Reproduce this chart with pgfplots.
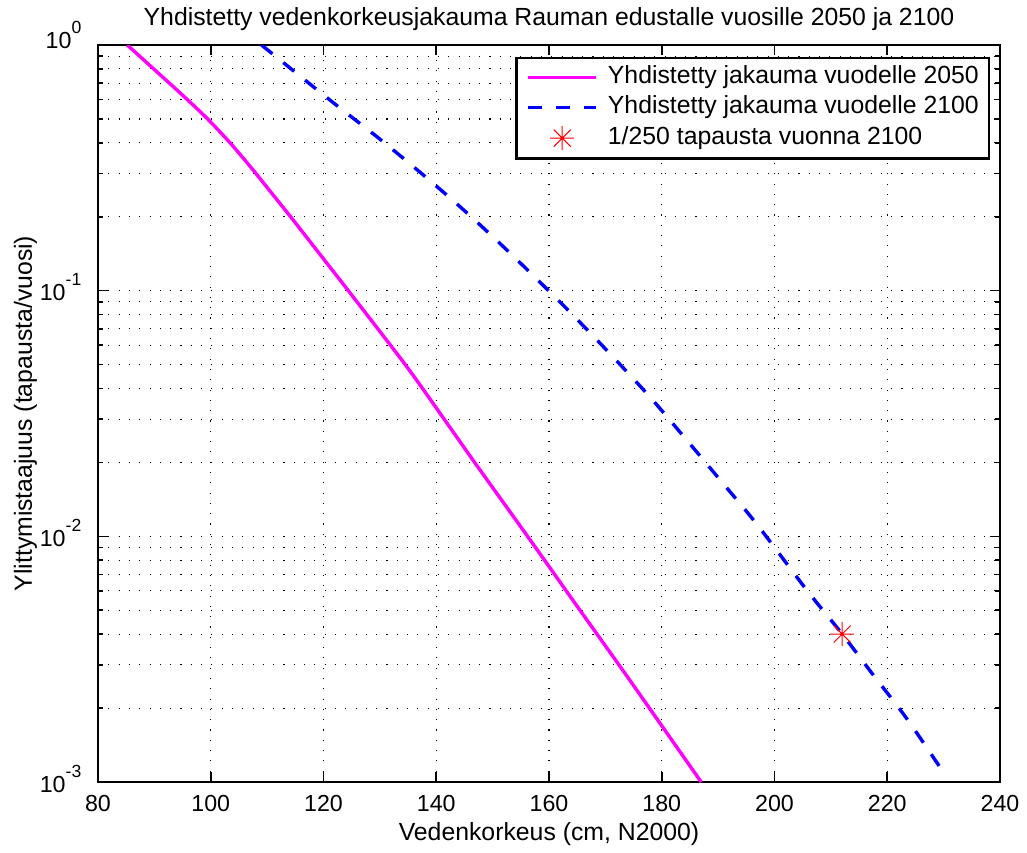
\documentclass[border=0pt]{standalone}
\usepackage{fontspec}
\setmainfont{Liberation Sans}
\usepackage{pgfplots}
\pgfplotsset{compat=1.18}
\definecolor{mmag}{RGB}{255,0,255}
\definecolor{mblue}{RGB}{0,0,255}
\definecolor{mred}{RGB}{255,0,0}
\pgfdeclareplotmark{mstar}{%
 \pgfpathmoveto{\pgfqpoint{-\pgfplotmarksize}{0pt}}\pgfpathlineto{\pgfqpoint{\pgfplotmarksize}{0pt}}%
 \pgfpathmoveto{\pgfqpoint{0pt}{-\pgfplotmarksize}}\pgfpathlineto{\pgfqpoint{0pt}{\pgfplotmarksize}}%
 \pgfpathmoveto{\pgfqpoint{-0.7071\pgfplotmarksize}{-0.7071\pgfplotmarksize}}\pgfpathlineto{\pgfqpoint{0.7071\pgfplotmarksize}{0.7071\pgfplotmarksize}}%
 \pgfpathmoveto{\pgfqpoint{-0.7071\pgfplotmarksize}{0.7071\pgfplotmarksize}}\pgfpathlineto{\pgfqpoint{0.7071\pgfplotmarksize}{-0.7071\pgfplotmarksize}}%
 \pgfusepathqstroke}
\pgfplotsset{
  lineleg/.style={legend image code/.code={\draw[##1] (0pt,0pt) -- (34pt,0pt);}},
  starleg/.style={legend image code/.code={\draw[##1, line width=0.5pt] plot coordinates {(17pt,0pt)};}},
}
\newcommand{\tpow}[1]{10\raisebox{7.4pt}{\fontsize{8.8}{9}\selectfont #1}}
\newcommand{\lfont}{\fontsize{12.4}{14}\selectfont}
\begin{document}
\begin{tikzpicture}
\path[use as bounding box] (-49pt,-35pt) rectangle (464.5pt,391pt);
\begin{axis}[
  at={(0,0)}, anchor=south west,
  scale only axis, width=451pt, height=368.5pt,
  xmin=80, xmax=240, ymode=log, ymin=1e-3, ymax=1,
  font=\fontsize{11.6}{13}\selectfont,
  xtick={80,100,...,240},
  ytick={1e-3,1e-2,1e-1,1},
  yticklabels={\tpow{-3},\tpow{-2},\tpow{-1},\raisebox{3.5pt}{\tpow{0}}},
  /pgf/number format/assume math mode=true,
  xticklabel style={anchor=base, yshift=-14.75pt, inner sep=0pt},
  yticklabel style={anchor=base east, xshift=-8.15pt, yshift=-5pt, inner sep=0pt},
  tick align=inside,
  major tick length=5pt, minor tick length=2.6pt,
  every tick/.style={black, line width=0.8pt},
  axis line style={line width=1.3pt},
  xmajorgrids, ymajorgrids, yminorgrids,
  major grid style={black, line width=0.55pt, dash pattern=on 0.55pt off 4.6pt},
  minor grid style={black, line width=0.55pt, dash pattern=on 0.55pt off 4.6pt},
  every axis title shift=0pt,
  title={Yhdistetty vedenkorkeusjakauma Rauman edustalle vuosille 2050 ja 2100},
  title style={at={(axis description cs:0.5,1.0271)}, anchor=base, yshift=0pt, inner sep=0pt, font=\lfont},
  xlabel={Vedenkorkeus (cm, N2000)},
  xlabel style={at={(axis description cs:0.5,-0.0787)}, anchor=base, yshift=0pt, inner sep=0pt, font=\lfont},
  ylabel={Ylittymistaajuus (tapausta/vuosi)},
  ylabel style={at={(axis description cs:-0.0732,0.5)}, anchor=base, xshift=0pt, inner sep=0pt, font=\lfont},
  legend style={at={(axis description cs:0.9889,0.9841)}, anchor=north east,
    draw=black, line width=1.2pt, font=\lfont,
    nodes={inner sep=0pt, text height=8.8pt, text depth=2.4pt},
    inner xsep=5pt, inner ysep=4.1pt, row sep=3.8pt, column sep=5pt},
  legend cell align=left,
]
\addplot[mmag, line width=1.7pt, smooth, tension=0.5, lineleg] coordinates {
(85.2,1) (90.0,0.7943) (94.8,0.631) (99.4,0.5012) (103.5,0.398) (107.2,0.3162)
(110.7,0.2512) (114.2,0.1995) (117.6,0.1585) (121.0,0.1259) (124.4,0.1)
(134.5,0.05) (141.4,0.03) (146.8,0.02) (156.2,0.01) (165.5,0.005)
(172.4,0.003) (177.8,0.002) (187,0.001)};
\addlegendentry{Yhdistetty jakauma vuodelle 2050}
\addplot[mblue, line width=1.7pt, dash pattern=on 7pt off 7pt, smooth, tension=0.5, lineleg] coordinates {
(109,1) (121.5,0.588) (129.1,0.43) (136.5,0.312) (143.9,0.223) (151,0.158)
(158.1,0.110) (164.8,0.0772) (171.6,0.053) (178.1,0.0365) (184.4,0.0247)
(190.6,0.0167) (196.8,0.01125) (205.7,0.00605) (211.9,0.00403) (217.5,0.00273)
(223.4,0.00182) (229.9,0.0011)};
\addlegendentry{Yhdistetty jakauma vuodelle 2100}
\addplot[mred, only marks, mark=mstar, mark size=6pt, line width=0.5pt, starleg]
  coordinates {(212,0.004)};
\addlegendentry{1/250 tapausta vuonna 2100}
\end{axis}
\end{tikzpicture}
\end{document}
